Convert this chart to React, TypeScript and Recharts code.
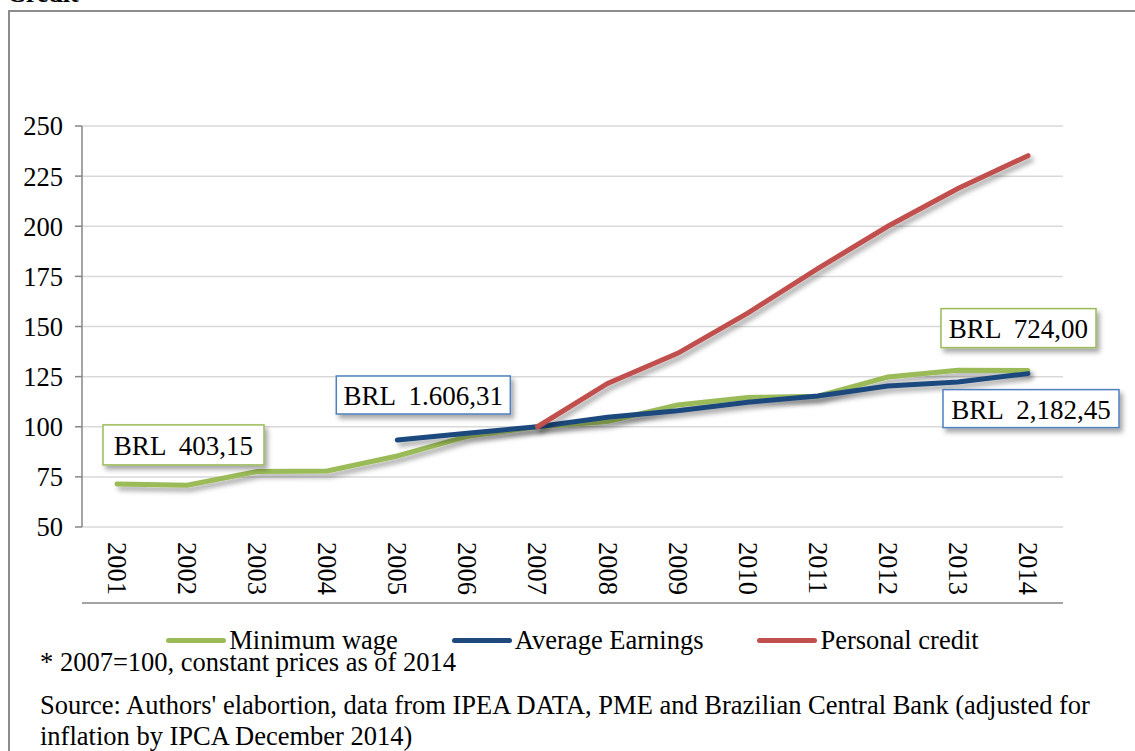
import { LineChart, Line, XAxis, YAxis, CartesianGrid, ReferenceDot } from "recharts";

const YEARS = ["2001", "2002", "2003", "2004", "2005", "2006", "2007", "2008", "2009", "2010", "2011", "2012", "2013", "2014"];
const MIN_WAGE = [71.5, 70.8, 77.7, 77.9, 85.4, 95.2, 100, 102.6, 110.9, 114.6, 115.2, 124.8, 128.2, 128.0];
const AVG_EARNINGS = [null, null, null, null, 93.4, 96.8, 100, 104.7, 108.0, 112.2, 115.3, 120.3, 122.3, 126.5];
const PERSONAL_CREDIT = [null, null, null, null, null, null, 100, 121.6, 136.6, 156.7, 178.9, 200.0, 218.8, 235.2];
const Y_TICKS = [50, 75, 100, 125, 150, 175, 200, 225, 250];
const EDGE_TICKS = YEARS.map((_, i) => i).concat(YEARS.length);

const SERIES = [
  { key: "minWage", name: "Minimum wage", color: "#9bbb59" },
  { key: "avgEarnings", name: "Average Earnings", color: "#1f497d" },
  { key: "credit", name: "Personal credit", color: "#c0504d" },
];

const NOTE = "* 2007=100, constant prices as of 2014";
const SOURCE = ["Source: Authors' elabortion, data from IPEA DATA, PME and Brazilian Central Bank (adjusted for", "inflation by IPCA December 2014)"];

const data = YEARS.map((year, i) => ({
  year,
  minWage: MIN_WAGE[i],
  avgEarnings: AVG_EARNINGS[i],
  credit: PERSONAL_CREDIT[i],
}));

const FONT = "'Liberation Serif', 'Times New Roman', serif";
const AXIS = "#868686";
const FS = 26.5;

const YearTick = ({ x, y, payload }: any) => (
  <text transform={`translate(${x},${y + 7}) rotate(90)`} textAnchor="start" dominantBaseline="central" fontSize={FS} fontFamily={FONT} fill="#000">
    {payload.value}
  </text>
);

// callout box anchored to a data point
const callout = (text: string, color: string, dx: number, dy: number, w: number, h: number) => (p: any) => (
  <g>
    <rect x={p.cx + dx} y={p.cy + dy} width={w} height={h} fill="#fff" stroke={color} strokeWidth={1.5} filter="url(#shadow)" />
    <text x={p.cx + dx + w / 2} y={p.cy + dy + h / 2 + 1} textAnchor="middle" dominantBaseline="central" fontSize={27} fontFamily={FONT} fill="#000" style={{ whiteSpace: "pre" }}>
      {text}
    </text>
  </g>
);

export default function App() {
  return (
    <div style={{ position: "fixed", left: 0, top: 0, width: 1135, height: 751, overflow: "hidden", background: "#fff", fontFamily: FONT }}>
      <div style={{ position: "absolute", left: 7, top: -19, fontSize: 26, lineHeight: "26px", fontWeight: "bold" }}>Credit</div>
      <div style={{ position: "absolute", left: 8, top: 10, width: 1140, height: 800, border: "2px solid #8c8c8c", boxSizing: "border-box" }} />
      <div style={{ position: "absolute", left: 0, top: 0 }}>
        <LineChart width={1135} height={610} data={data} margin={{ top: 126, right: 72, left: 0, bottom: 0 }}>
          <defs>
            <filter id="shadow" x="-20%" y="-20%" width="140%" height="160%">
              <feDropShadow dx="3" dy="4" stdDeviation="2.5" floodColor="#000" floodOpacity="0.35" />
            </filter>
          </defs>
          <CartesianGrid vertical={false} stroke="#d9d9d9" strokeWidth={1.5} />
          <XAxis xAxisId="edge" type="number" domain={[0, YEARS.length]} ticks={EDGE_TICKS} tick={false} tickSize={7} height={7} stroke={AXIS} strokeWidth={1.5} allowDataOverflow />
          <XAxis dataKey="year" axisLine={false} tickLine={false} height={76} tick={<YearTick />} interval={0} padding={{ left: 35, right: 35 }} />
          <YAxis domain={[50, 250]} ticks={Y_TICKS} width={82} tickSize={7} tickMargin={12} stroke={AXIS} strokeWidth={1.5} tick={{ fontSize: FS, fontFamily: FONT, fill: "#000" }} />
          {SERIES.map((s) => (
            <Line key={s.key} dataKey={s.key} name={s.name} stroke={s.color} strokeWidth={5} dot={false} type="linear" isAnimationActive={false} filter="url(#shadow)" strokeLinecap="round" />
          ))}
          <ReferenceDot x="2001" y={MIN_WAGE[0]} r={0} shape={callout("BRL  403,15", "#9bbb59", -14, -59, 161, 40)} />
          <ReferenceDot x="2005" y={AVG_EARNINGS[4] as number} r={0} shape={callout("BRL  1.606,31", "#4f81bd", -61, -64, 174, 38)} />
          <ReferenceDot x="2014" y={MIN_WAGE[13]} r={0} shape={callout("BRL  724,00", "#9bbb59", -87, -62, 155, 39)} />
          <ReferenceDot x="2014" y={AVG_EARNINGS[13] as number} r={0} shape={callout("BRL  2,182,45", "#4f81bd", -85, 16, 176, 38)} />
        </LineChart>
      </div>
      <div style={{ position: "absolute", left: 82, width: 981, top: 624, display: "flex", justifyContent: "center", gap: 54, fontSize: FS, lineHeight: "32px" }}>
        {SERIES.map((s) => (
          <div key={s.key} style={{ display: "flex", alignItems: "center" }}>
            <span style={{ display: "inline-block", width: 60, height: 5, borderRadius: 3, background: s.color, marginRight: 3 }} />
            <span>{s.name}</span>
          </div>
        ))}
      </div>
      <div style={{ position: "absolute", left: 40, top: 646, fontSize: FS, lineHeight: "32px", whiteSpace: "nowrap" }}>{NOTE}</div>
      <div style={{ position: "absolute", left: 40, top: 690, fontSize: FS, lineHeight: "31px", whiteSpace: "nowrap" }}>
        {SOURCE.map((l) => (
          <div key={l}>{l}</div>
        ))}
      </div>
    </div>
  );
}
